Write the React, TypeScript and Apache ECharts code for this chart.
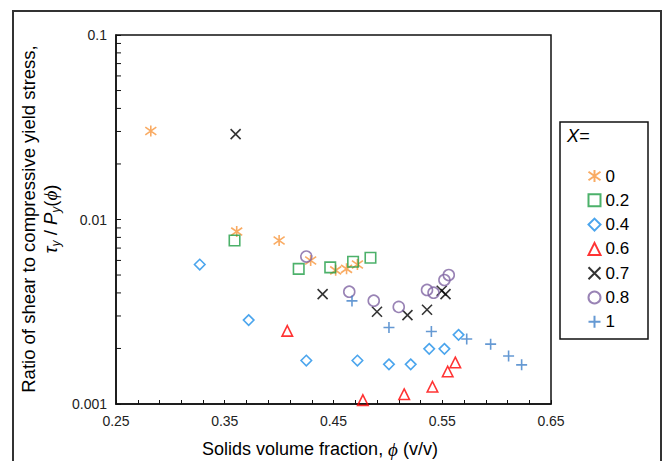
import React, { useEffect, useRef } from "react";
import * as echarts from "echarts";

const seriesNames = ["0", "0.2", "0.4", "0.6", "0.7", "0.8", "1"];
const phi0 = [0.282, 0.361, 0.4, 0.429, 0.452, 0.462, 0.472];
const ratio0 = [0.0302, 0.0086, 0.0077, 0.006, 0.0053, 0.0054, 0.0057];
const phi02 = [0.359, 0.418, 0.447, 0.468, 0.484];
const ratio02 = [0.0077, 0.0054, 0.0055, 0.0059, 0.0062];
const phi04 = [0.327, 0.372, 0.425, 0.472, 0.501, 0.521, 0.538, 0.552, 0.565];
const ratio04 = [0.0057, 0.00285, 0.00172, 0.00172, 0.00164, 0.00164, 0.00199, 0.00199, 0.00237];
const phi06 = [0.4075, 0.477, 0.515, 0.541, 0.555, 0.562];
const ratio06 = [0.00249, 0.00105, 0.00113, 0.00124, 0.0015, 0.00168];
const phi07 = [0.36, 0.44, 0.49, 0.518, 0.536, 0.5495, 0.553];
const ratio07 = [0.029, 0.00394, 0.00316, 0.00303, 0.00324, 0.00411, 0.00394];
const phi08 = [0.425, 0.4645, 0.487, 0.51, 0.536, 0.542, 0.552, 0.556];
const ratio08 = [0.0063, 0.00406, 0.00363, 0.00336, 0.00415, 0.00401, 0.0047, 0.005];
const phi1 = [0.467, 0.501, 0.54, 0.5725, 0.5945, 0.611, 0.623];
const ratio1 = [0.00362, 0.0026, 0.00247, 0.00225, 0.00211, 0.00182, 0.00163];

const xMin = 0.25;
const xMax = 0.65;
const xStep = 0.1;
const yMin = 0.001;
const yMax = 0.1;
const yMinorMultipliers = [2, 3, 4, 5, 6, 7, 8, 9];
const yDecades = [0.001, 0.01];

const FONT = "'Liberation Sans', Arial, sans-serif";

const SYM_STAR = "path://M5 0L5 10M0 1.5L10 8.5M10 1.5L0 8.5";
const SYM_X = "path://M0 0L10 10M10 0L0 10";
const SYM_PLUS = "path://M5 0L5 10M0 5L10 5";

export default function App() {
  const ref = useRef<HTMLDivElement>(null);
  useEffect(() => {
    if (!ref.current) return;
    const chart = echarts.init(ref.current, undefined, { renderer: "svg" });

    const mk = (
      name: string,
      xs: number[],
      ys: number[],
      symbol: string,
      color: string,
      size: number,
      bw = 1.6
    ) => ({
      type: "scatter",
      name,
      data: xs.map((x, i) => [x, ys[i]]),
      symbol,
      symbolSize: size,
      itemStyle: { color: "none", borderColor: color, borderWidth: bw },
      emphasis: { disabled: true },
      z: 4,
    });

    const yMinor = yDecades.flatMap((d) => yMinorMultipliers.map((m) => m * d));

    const option: any = {
      animation: false,
      backgroundColor: "#fff",
      grid: {
        left: 116,
        top: 35,
        width: 435,
        height: 369,
        show: true,
        borderColor: "#111",
        borderWidth: 1.5,
        containLabel: false,
      },
      xAxis: {
        type: "value",
        min: xMin,
        max: xMax,
        interval: xStep,
        axisLine: { show: true, lineStyle: { color: "#111", width: 1.5 } },
        axisTick: { show: true, inside: true, length: 4, lineStyle: { color: "#111" } },
        minorTick: { show: true, splitNumber: 5, length: 4, lineStyle: { color: "#111" } },
        splitLine: { show: false },
        axisLabel: {
          fontSize: 14,
          fontFamily: FONT,
          color: "#222",
          margin: 10,
          formatter: (v: number) => v.toFixed(2),
        },
      },
      yAxis: {
        type: "log",
        logBase: 10,
        min: yMin,
        max: yMax,
        axisLine: { show: true, lineStyle: { color: "#111", width: 1.5 } },
        axisTick: { show: true, inside: true, length: 5, lineStyle: { color: "#111" } },
        splitLine: { show: false },
        axisLabel: {
          fontSize: 14,
          fontFamily: FONT,
          color: "#222",
          margin: 9,
          formatter: (v: number) => {
            const e = Math.round(Math.log10(v));
            return Math.pow(10, e).toFixed(-e);
          },
        },
      },
      legend: {
        orient: "vertical",
        left: 581,
        top: 162,
        itemWidth: 12,
        itemHeight: 12,
        itemGap: 6.3,
        selectedMode: false,
        data: seriesNames,
        textStyle: { fontSize: 17, fontFamily: FONT, color: "#000", lineHeight: 18 },
      },
      series: [
        mk(seriesNames[0], phi0, ratio0, SYM_STAR, "#F7963C", 11),
        mk(seriesNames[1], phi02, ratio02, "rect", "#1F9E45", 10.5),
        mk(seriesNames[2], phi04, ratio04, "diamond", "#1E8FE8", 10.5),
        mk(seriesNames[3], phi06, ratio06, "triangle", "#FF0000", 10.5),
        mk(seriesNames[4], phi07, ratio07, SYM_X, "#000000", 10),
        mk(seriesNames[5], phi08, ratio08, "circle", "#8064A2", 11),
        mk(seriesNames[6], phi1, ratio1, SYM_PLUS, "#3F7FC8", 11),
        {
          type: "custom",
          silent: true,
          clip: false,
          z: 3,
          data: yMinor.map((v) => [xMin, v]),
          renderItem: (_p: any, api: any) => {
            const p = api.coord([api.value(0), api.value(1)]);
            return {
              type: "line",
              shape: { x1: p[0], y1: p[1], x2: p[0] + 5, y2: p[1] },
              style: { stroke: "#111", lineWidth: 1 },
            };
          },
        },
      ],
      graphic: [
        {
          type: "rect",
          shape: { x: 13, y: 11, width: 648, height: 480 },
          style: { fill: "none", stroke: "#333", lineWidth: 2 },
          silent: true,
        },
        {
          type: "rect",
          shape: { x: 560, y: 122, width: 88, height: 217 },
          style: { fill: "none", stroke: "#111", lineWidth: 1.5 },
          silent: true,
        },
        {
          type: "text",
          left: 567,
          top: 127,
          style: {
            text: "X=",
            fontSize: 18,
            fontStyle: "italic",
            fontFamily: FONT,
            fill: "#000",
          },
        },
        {
          type: "text",
          x: 28,
          y: 219,
          rotation: Math.PI / 2,
          style: {
            text: "Ratio of shear to compressive yield stress,",
            fontSize: 18.5,
            fontFamily: FONT,
            fill: "#000",
            align: "center",
            verticalAlign: "middle",
          },
        },
        {
          type: "text",
          x: 50,
          y: 219,
          rotation: Math.PI / 2,
          style: {
            text: "{i|τ}{s|y}{n| / }{i|P}{s|y}{n|(}{g|ϕ}{n|)}",
            align: "center",
            verticalAlign: "middle",
            fill: "#000",
            rich: {
              n: { fontSize: 18.5, fontFamily: FONT, lineHeight: 24, fill: "#000" },
              i: { fontSize: 18.5, fontFamily: FONT, fontStyle: "italic", lineHeight: 24, fill: "#000" },
              g: { fontSize: 19, fontFamily: "'Liberation Serif', serif", fontStyle: "italic", lineHeight: 24, fill: "#000" },
              s: { fontSize: 12, fontFamily: FONT, fontStyle: "italic", lineHeight: 24, verticalAlign: "bottom", padding: [8, 0, 0, 0], fill: "#000" },
            },
          },
        },
        {
          type: "text",
          x: 320,
          y: 449,
          style: {
            text: "{n|Solids volume fraction, }{g|ϕ}{n| (v/v)}",
            align: "center",
            verticalAlign: "middle",
            fill: "#000",
            rich: {
              n: { fontSize: 18, fontFamily: FONT, fill: "#000" },
              g: { fontSize: 19, fontFamily: "'Liberation Serif', serif", fontStyle: "italic", fill: "#000" },
            },
          },
        },
      ],
    };
    chart.setOption(option);
    return () => chart.dispose();
  }, []);
  return (
    <div
      ref={ref}
      style={{ position: "fixed", left: 0, top: 0, width: 665, height: 461, background: "#fff" }}
    />
  );
}
